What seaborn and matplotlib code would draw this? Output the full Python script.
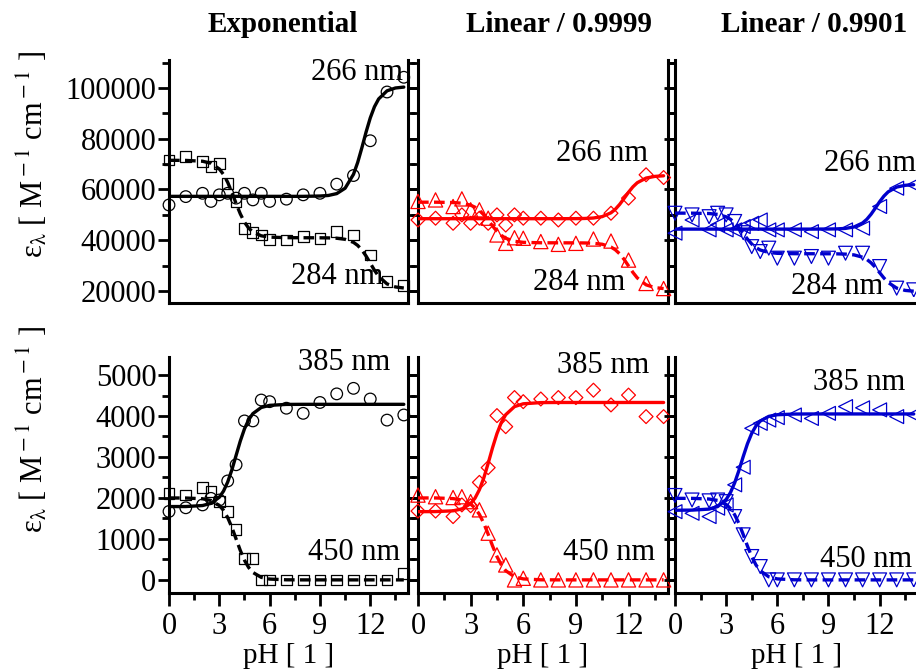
import matplotlib
matplotlib.use('Agg')
import matplotlib.pyplot as plt
from matplotlib.ticker import MultipleLocator
import seaborn as sns

# pH of the measured points
ph_pts = [0, 1, 2, 2.5, 3, 3.5, 4, 4.5, 5, 5.5, 6, 7, 8, 9, 10, 11, 12, 13, 14]
# pH grid of the fitted curves
ph_fit = [0, 1, 2, 2.5, 3, 3.25, 3.5, 3.75, 4, 4.25, 4.5, 4.75, 5, 5.5, 6, 7,
          8, 9, 9.5, 10, 10.5, 11, 11.25, 11.5, 11.75, 12, 12.25, 12.5, 13, 13.5, 14]

# ---- top row: 266 nm / 284 nm
exp_266 = [53900, 57200, 58500, 55300, 57900, 58500, 56600, 58500, 55900, 58500,
           55300, 56200, 57900, 58500, 62100, 65500, 79200, 98400, 104200]
exp_284 = [71650, 72950, 71000, 69000, 70100, 62500, 55250, 44750, 43050, 42100,
           40400, 40150, 41450, 40800, 43400, 42100, 34200, 23700, 22100]
lin1_266 = [48000, 48700, 46700, 50000, 46700, 48700, 46700, 50000, 46000, 50000,
            48700, 48700, 48000, 48700, 48700, 50650, 56600, 65800, 64700]
lin1_284 = [55300, 55900, 53300, 56300, 52000, 52000, 48700, 42100, 38800, 41000,
            40800, 39500, 38400, 38800, 40500, 39700, 32200, 23000, 21000]
lin2_266 = [42800, 48000, 44100, 46100, 44100, 44100, 45400, 46700, 48000, 44100,
            44100, 44100, 43400, 44100, 44100, 44750, 53300, 60500, 61800]
lin2_284 = [50650, 50000, 49300, 50650, 50000, 47400, 43000, 37500, 35550, 36900,
            32950, 32950, 33600, 32950, 34900, 34900, 29650, 21150, 20500]

exp_266_fit = [57300, 57300, 57300, 57300, 57300, 57300, 57300, 57300, 57300, 57300,
               57300, 57300, 57300, 57300, 57300, 57300,
               57300, 57430, 57650, 58380, 60500, 65980, 70650, 76440, 82620, 88190,
               92590, 95660, 98860, 99980, 100330]
exp_284_fit = [71500, 71460, 71130, 70340, 68080, 65920, 62810, 58870, 54510, 50420,
               47130, 44780, 43260, 41760, 41240, 41030,
               41000, 40980, 40940, 40800, 40380, 39180, 37980, 36200, 33800, 31000,
               28200, 25800, 22820, 21620, 21200]
lin1_266_fit = [48500, 48500, 48500, 48500, 48500, 48500, 48500, 48500, 48500, 48500,
                48500, 48500, 48500, 48500, 48500, 48500,
                48500, 48530, 48590, 48770, 49320, 50830, 52240, 54180, 56510, 58920,
                61050, 62680, 64500, 65160, 65400]
lin1_284_fit = [55000, 55000, 54870, 54600, 53820, 53020, 51780, 50060, 47910, 45620,
                43560, 41930, 40790, 39610, 39190, 39020,
                39000, 38980, 38950, 38820, 38440, 37340, 36250, 34630, 32450, 29900,
                27350, 25170, 22460, 21360, 20980]
lin2_266_fit = [44400, 44400, 44400, 44400, 44400, 44400, 44400, 44400, 44400, 44400,
                44400, 44400, 44400, 44400, 44400, 44400,
                44400, 44440, 44490, 44680, 45240, 46810, 48270, 50280, 52690, 55190,
                57390, 59080, 60960, 61650, 61890]
lin2_284_fit = [50700, 50680, 50540, 50200, 49240, 48280, 46860, 44940, 42700, 40460,
                38540, 37120, 36160, 35200, 34860, 34720,
                34700, 34690, 34660, 34550, 34240, 33340, 32450, 31120, 29340, 27250,
                25160, 23380, 21160, 20260, 19950]

# ---- bottom row: 385 nm / 450 nm
exp_385 = [1670, 1760, 1830, 1990, 1950, 2415, 2810, 3880, 3880, 4390,
           4350, 4190, 4065, 4330, 4540, 4675, 4415, 3900, 4025]
exp_450 = [2110, 2070, 2250, 2150, 1910, 1670, 1235, 530, 530, 0,
           0, 0, 0, 0, 0, 0, 0, 0, 160]
lin1_385 = [1680, 1680, 1545, 1830, 1810, 2380, 2740, 4010, 3740, 4450,
            4350, 4415, 4450, 4450, 4630, 4270, 4510, 3985, 3985]
lin1_450 = [2070, 2030, 2010, 2030, 1910, 1710, 1140, 610, 365, 0,
            40, 0, 0, 0, 0, 0, 0, 0, 0]
lin2_385 = [1665, 1625, 1545, 1750, 1830, 2320, 2750, 3700, 3820, 3900,
            3960, 4025, 3940, 4065, 4230, 4200, 4150, 3985, 4025]
lin2_450 = [2060, 1950, 1930, 1950, 1910, 1545, 1100, 570, 325, 0,
            0, 0, 0, 0, 0, 0, 0, 0, 0]

exp_385_fit = [1790, 1790, 1815, 1867, 2017, 2167, 2389, 2688, 3038, 3387,
               3686, 3908, 4058, 4208, 4260, 4283,
               4285, 4285, 4285, 4285, 4285, 4285, 4285, 4285, 4285, 4285,
               4285, 4285, 4285, 4285, 4285]
exp_450_fit = [2000, 1998, 1980, 1938, 1818, 1698, 1520, 1280, 1000, 720,
               480, 302, 182, 62, 20, 2,
               0, 0, 0, 0, 0, 0, 0, 0, 0, 0, 0, 0, 0, 0, 0]
lin1_385_fit = [1665, 1667, 1686, 1732, 1862, 1995, 2201, 2488, 2846, 3227,
                3570, 3842, 4032, 4229, 4298, 4327,
                4330, 4330, 4330, 4330, 4330, 4330, 4330, 4330, 4330, 4330,
                4330, 4330, 4330, 4330, 4330]
lin1_450_fit = [2000, 2000, 1984, 1950, 1852, 1752, 1598, 1382, 1114, 828,
                570, 366, 224, 76, 24, 2,
                0, 0, 0, 0, 0, 0, 0, 0, 0, 0, 0, 0, 0, 0, 0]
lin2_385_fit = [1700, 1703, 1728, 1789, 1963, 2130, 2370, 2673, 3009, 3324,
                3578, 3759, 3876, 3991, 4031, 4048,
                4050, 4050, 4050, 4050, 4050, 4050, 4050, 4050, 4050, 4050,
                4050, 4050, 4050, 4050, 4050]
lin2_450_fit = [1990, 1990, 1974, 1940, 1843, 1743, 1590, 1375, 1108, 824,
                567, 364, 223, 76, 24, 2,
                0, 0, 0, 0, 0, 0, 0, 0, 0, 0, 0, 0, 0, 0, 0]

titles = ['Exponential', 'Linear / 0.9999', 'Linear / 0.9901']
colors = ['black', '#ff0000', '#0000cd']
markers_a = ['o', 'D', '<']   # 266 / 385 nm
markers_b = ['s', '^', 'v']   # 284 / 450 nm
sizes = {'o': 70, 's': 60, 'D': 50, '^': 105, '<': 100, 'v': 100}

top_a = [exp_266, lin1_266, lin2_266]
top_b = [exp_284, lin1_284, lin2_284]
top_a_fit = [exp_266_fit, lin1_266_fit, lin2_266_fit]
top_b_fit = [exp_284_fit, lin1_284_fit, lin2_284_fit]
bot_a = [exp_385, lin1_385, lin2_385]
bot_b = [exp_450, lin1_450, lin2_450]
bot_a_fit = [exp_385_fit, lin1_385_fit, lin2_385_fit]
bot_b_fit = [exp_450_fit, lin1_450_fit, lin2_450_fit]

top_yticks = [20000, 40000, 60000, 80000, 100000]
bot_yticks = [0, 1000, 2000, 3000, 4000, 5000]
xticks = [0, 3, 6, 9, 12]

sns.set_style('ticks')
plt.rcParams['font.family'] = ['Liberation Serif', 'DejaVu Serif']
plt.rcParams['mathtext.fontset'] = 'stix'
for k in ['text.color', 'axes.labelcolor', 'xtick.color', 'ytick.color',
          'axes.edgecolor']:
    plt.rcParams[k] = 'black'

FS = 21
fig = plt.figure(figsize=(9.16, 6.69), dpi=100)

# panel geometry in figure fractions
lefts = [169 / 916, 418 / 916, 675 / 916]
widths = [239 / 916, 250 / 916, 243 / 916]
top_row = (1 - 303 / 669, 243 / 669)
bot_row = (1 - 593 / 669, 236 / 669)

# label spots (axes fraction, right aligned)
lab_top_a = [(0.98, 0.95), (0.92, 0.617), (0.99, 0.576)]
lab_top_b = [(0.895, 0.107), (0.83, 0.086), (0.855, 0.066)]
lab_bot_a = [(0.925, 0.975), (0.924, 0.966), (0.946, 0.894)]
lab_bot_b = [(0.967, 0.17), (0.95, 0.17), (0.975, 0.14)]
title_x = [283, 559, 814]


def draw(ax, ya, yb, fa, fb, col, ma, mb):
    sns.scatterplot(x=ph_pts, y=ya, marker=ma, s=sizes[ma], facecolor='none',
                    edgecolor=col, linewidth=0.9, clip_on=False, zorder=3, ax=ax)
    sns.scatterplot(x=ph_pts, y=yb, marker=mb, s=sizes[mb], facecolor='none',
                    edgecolor=col, linewidth=0.9, clip_on=False, zorder=3, ax=ax)
    sns.lineplot(x=ph_fit, y=fa, color=col, linewidth=2.4, ax=ax, zorder=4)
    sns.lineplot(x=ph_fit, y=fb, color=col, linewidth=2.4,
                 linestyle=(0, (3.2, 1.6)), ax=ax, zorder=4)


def style(ax, first, bottom):
    ax.set_xlim(0, 14.25)
    ax.spines['top'].set_visible(False)
    for s in ['left', 'right', 'bottom']:
        ax.spines[s].set_linewidth(2.2)
    ax.tick_params(axis='y', which='both', direction='out', left=True,
                   right=True, width=2, labelleft=first, labelsize=FS + 1, pad=1)
    ax.tick_params(axis='y', which='major', length=8)
    ax.tick_params(axis='y', which='minor', length=5)
    if bottom:
        ax.set_xticks(xticks)
        ax.set_xticklabels([str(t) for t in xticks])
        ax.xaxis.set_minor_locator(MultipleLocator(1.5))
        ax.tick_params(axis='x', which='both', direction='out', width=2,
                       labelsize=FS + 1, pad=5)
        ax.tick_params(axis='x', which='major', length=9)
        ax.tick_params(axis='x', which='minor', length=5)
        ax.set_xlabel('pH [ 1 ]', fontsize=FS, labelpad=1)
    else:
        ax.tick_params(axis='x', which='both', bottom=False, labelbottom=False)
        ax.set_xlabel('')
    ax.set_ylabel('')


for i in range(3):
    ax = fig.add_axes([lefts[i], top_row[0], widths[i], top_row[1]])
    draw(ax, top_a[i], top_b[i], top_a_fit[i], top_b_fit[i], colors[i],
         markers_a[i], markers_b[i])
    ax.set_ylim(15300, 111000)
    ax.set_yticks(top_yticks)
    ax.set_yticklabels([str(t) for t in top_yticks])
    ax.yaxis.set_minor_locator(MultipleLocator(10000))
    style(ax, i == 0, False)
    ax.text(*lab_top_a[i], '266 nm', transform=ax.transAxes, ha='right',
            va='center', fontsize=FS + 1)
    ax.text(*lab_top_b[i], '284 nm', transform=ax.transAxes, ha='right',
            va='center', fontsize=FS + 1)

    ax = fig.add_axes([lefts[i], bot_row[0], widths[i], bot_row[1]])
    draw(ax, bot_a[i], bot_b[i], bot_a_fit[i], bot_b_fit[i], colors[i],
         markers_a[i], markers_b[i])
    ax.set_ylim(-320, 5440)
    ax.set_yticks(bot_yticks)
    ax.set_yticklabels([str(t) for t in bot_yticks])
    ax.yaxis.set_minor_locator(MultipleLocator(500))
    style(ax, i == 0, True)
    ax.text(*lab_bot_a[i], '385 nm', transform=ax.transAxes, ha='right',
            va='center', fontsize=FS + 1)
    ax.text(*lab_bot_b[i], '450 nm', transform=ax.transAxes, ha='right',
            va='center', fontsize=FS + 1)

    fig.text(title_x[i] / 916, 1 - 25 / 669, titles[i], ha='center', va='center',
             fontsize=FS, fontweight='bold')

ylab = r'ε$_{\rm λ}$ [ M$^{\rm -1}$ cm$^{\rm -1}$ ]'
fig.text(33 / 916, 1 - 155 / 669, ylab, rotation=90, ha='center', va='center',
         fontsize=FS + 1)
fig.text(33 / 916, 1 - 430 / 669, ylab, rotation=90, ha='center', va='center',
         fontsize=FS + 1)

fig.savefig('out.png', dpi=100, facecolor='white')
